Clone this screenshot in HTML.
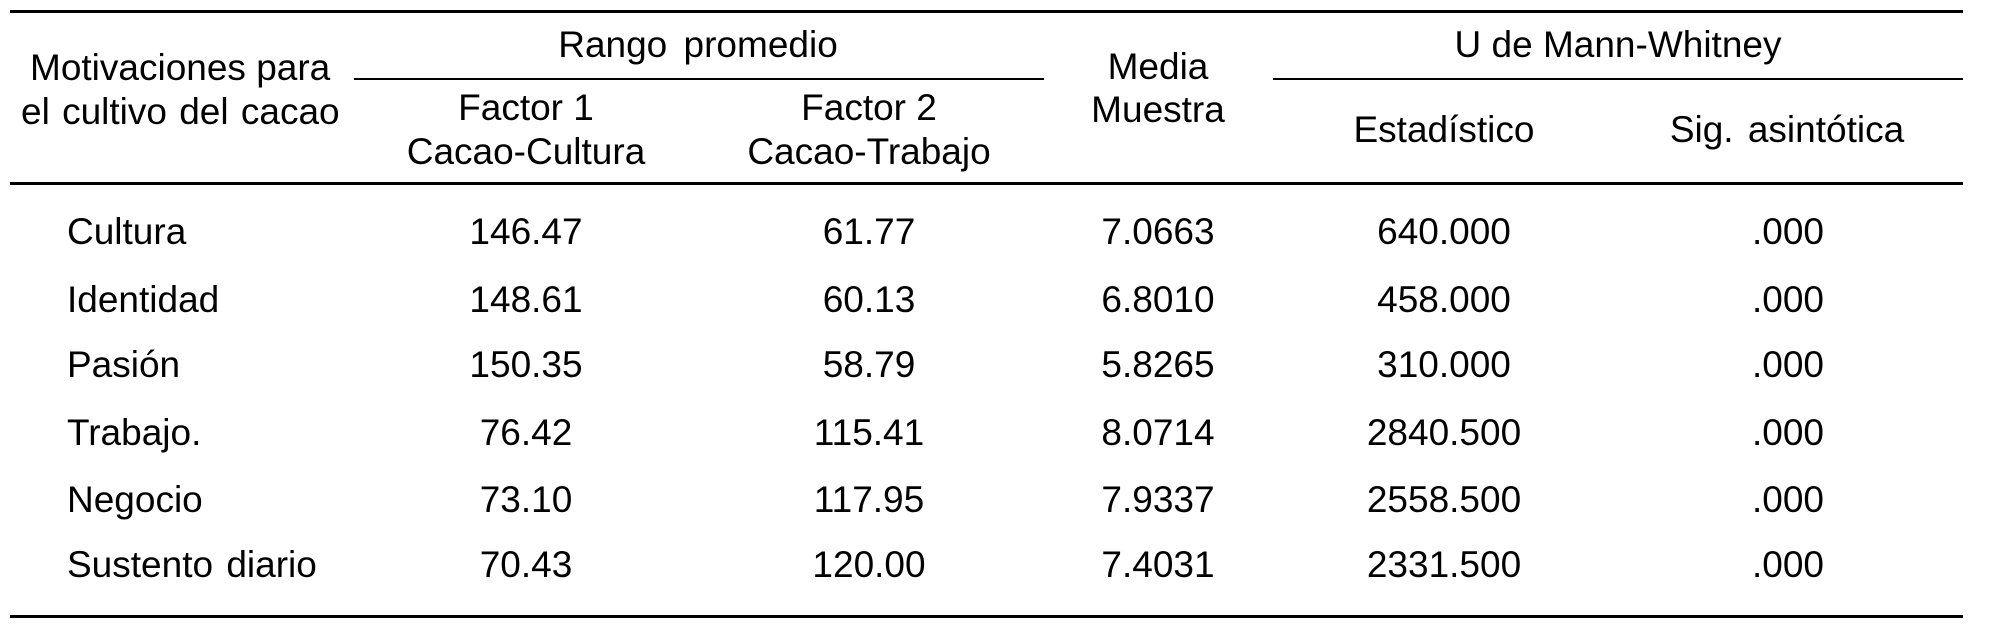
<!DOCTYPE html>
<html><head><meta charset="utf-8"><style>
body{margin:0;width:2009px;height:630px;background:#fff;position:relative;overflow:hidden;font-family:"Liberation Sans",Arial,sans-serif;font-size:37px;color:#000}
.l{position:absolute;background:#000}
.t{position:absolute;height:40px;line-height:40px;white-space:nowrap}
.c{transform:translateX(-50%)}
</style></head><body>
<div class="l" style="left:10px;top:10px;width:1953px;height:3px"></div>
<div class="l" style="left:354px;top:78px;width:690px;height:2px"></div>
<div class="l" style="left:1273px;top:78px;width:690px;height:2px"></div>
<div class="l" style="left:10px;top:182px;width:1953px;height:3px"></div>
<div class="l" style="left:10px;top:615px;width:1953px;height:3px"></div>

<div class="t" style="left:30px;top:48px">Motivaciones para</div>
<div class="t" style="left:21px;top:92px;word-spacing:2px">el cultivo del cacao</div>
<div class="t c" style="left:698px;top:25px;word-spacing:6px">Rango promedio</div>
<div class="t c" style="left:526px;top:88px">Factor 1</div>
<div class="t c" style="left:526px;top:132px">Cacao-Cultura</div>
<div class="t c" style="left:869px;top:88px">Factor 2</div>
<div class="t c" style="left:869px;top:132px">Cacao-Trabajo</div>
<div class="t c" style="left:1158px;top:47px">Media</div>
<div class="t c" style="left:1158px;top:90px">Muestra</div>
<div class="t c" style="left:1618px;top:25px">U de Mann-Whitney</div>
<div class="t c" style="left:1444px;top:110px">Estadístico</div>
<div class="t c" style="left:1787px;top:110px;word-spacing:4px">Sig. asintótica</div>

<div class="t" style="left:67px;top:212px">Cultura</div>
<div class="t c" style="left:526px;top:212px">146.47</div>
<div class="t c" style="left:869px;top:212px">61.77</div>
<div class="t c" style="left:1158px;top:212px">7.0663</div>
<div class="t c" style="left:1444px;top:212px">640.000</div>
<div class="t c" style="left:1788px;top:212px">.000</div>

<div class="t" style="left:67px;top:280px">Identidad</div>
<div class="t c" style="left:526px;top:280px">148.61</div>
<div class="t c" style="left:869px;top:280px">60.13</div>
<div class="t c" style="left:1158px;top:280px">6.8010</div>
<div class="t c" style="left:1444px;top:280px">458.000</div>
<div class="t c" style="left:1788px;top:280px">.000</div>

<div class="t" style="left:67px;top:345px">Pasión</div>
<div class="t c" style="left:526px;top:345px">150.35</div>
<div class="t c" style="left:869px;top:345px">58.79</div>
<div class="t c" style="left:1158px;top:345px">5.8265</div>
<div class="t c" style="left:1444px;top:345px">310.000</div>
<div class="t c" style="left:1788px;top:345px">.000</div>

<div class="t" style="left:67px;top:413px">Trabajo.</div>
<div class="t c" style="left:526px;top:413px">76.42</div>
<div class="t c" style="left:869px;top:413px">115.41</div>
<div class="t c" style="left:1158px;top:413px">8.0714</div>
<div class="t c" style="left:1444px;top:413px">2840.500</div>
<div class="t c" style="left:1788px;top:413px">.000</div>

<div class="t" style="left:67px;top:480px">Negocio</div>
<div class="t c" style="left:526px;top:480px">73.10</div>
<div class="t c" style="left:869px;top:480px">117.95</div>
<div class="t c" style="left:1158px;top:480px">7.9337</div>
<div class="t c" style="left:1444px;top:480px">2558.500</div>
<div class="t c" style="left:1788px;top:480px">.000</div>

<div class="t" style="left:67px;top:545px;word-spacing:3px">Sustento diario</div>
<div class="t c" style="left:526px;top:545px">70.43</div>
<div class="t c" style="left:869px;top:545px">120.00</div>
<div class="t c" style="left:1158px;top:545px">7.4031</div>
<div class="t c" style="left:1444px;top:545px">2331.500</div>
<div class="t c" style="left:1788px;top:545px">.000</div>
</body></html>
